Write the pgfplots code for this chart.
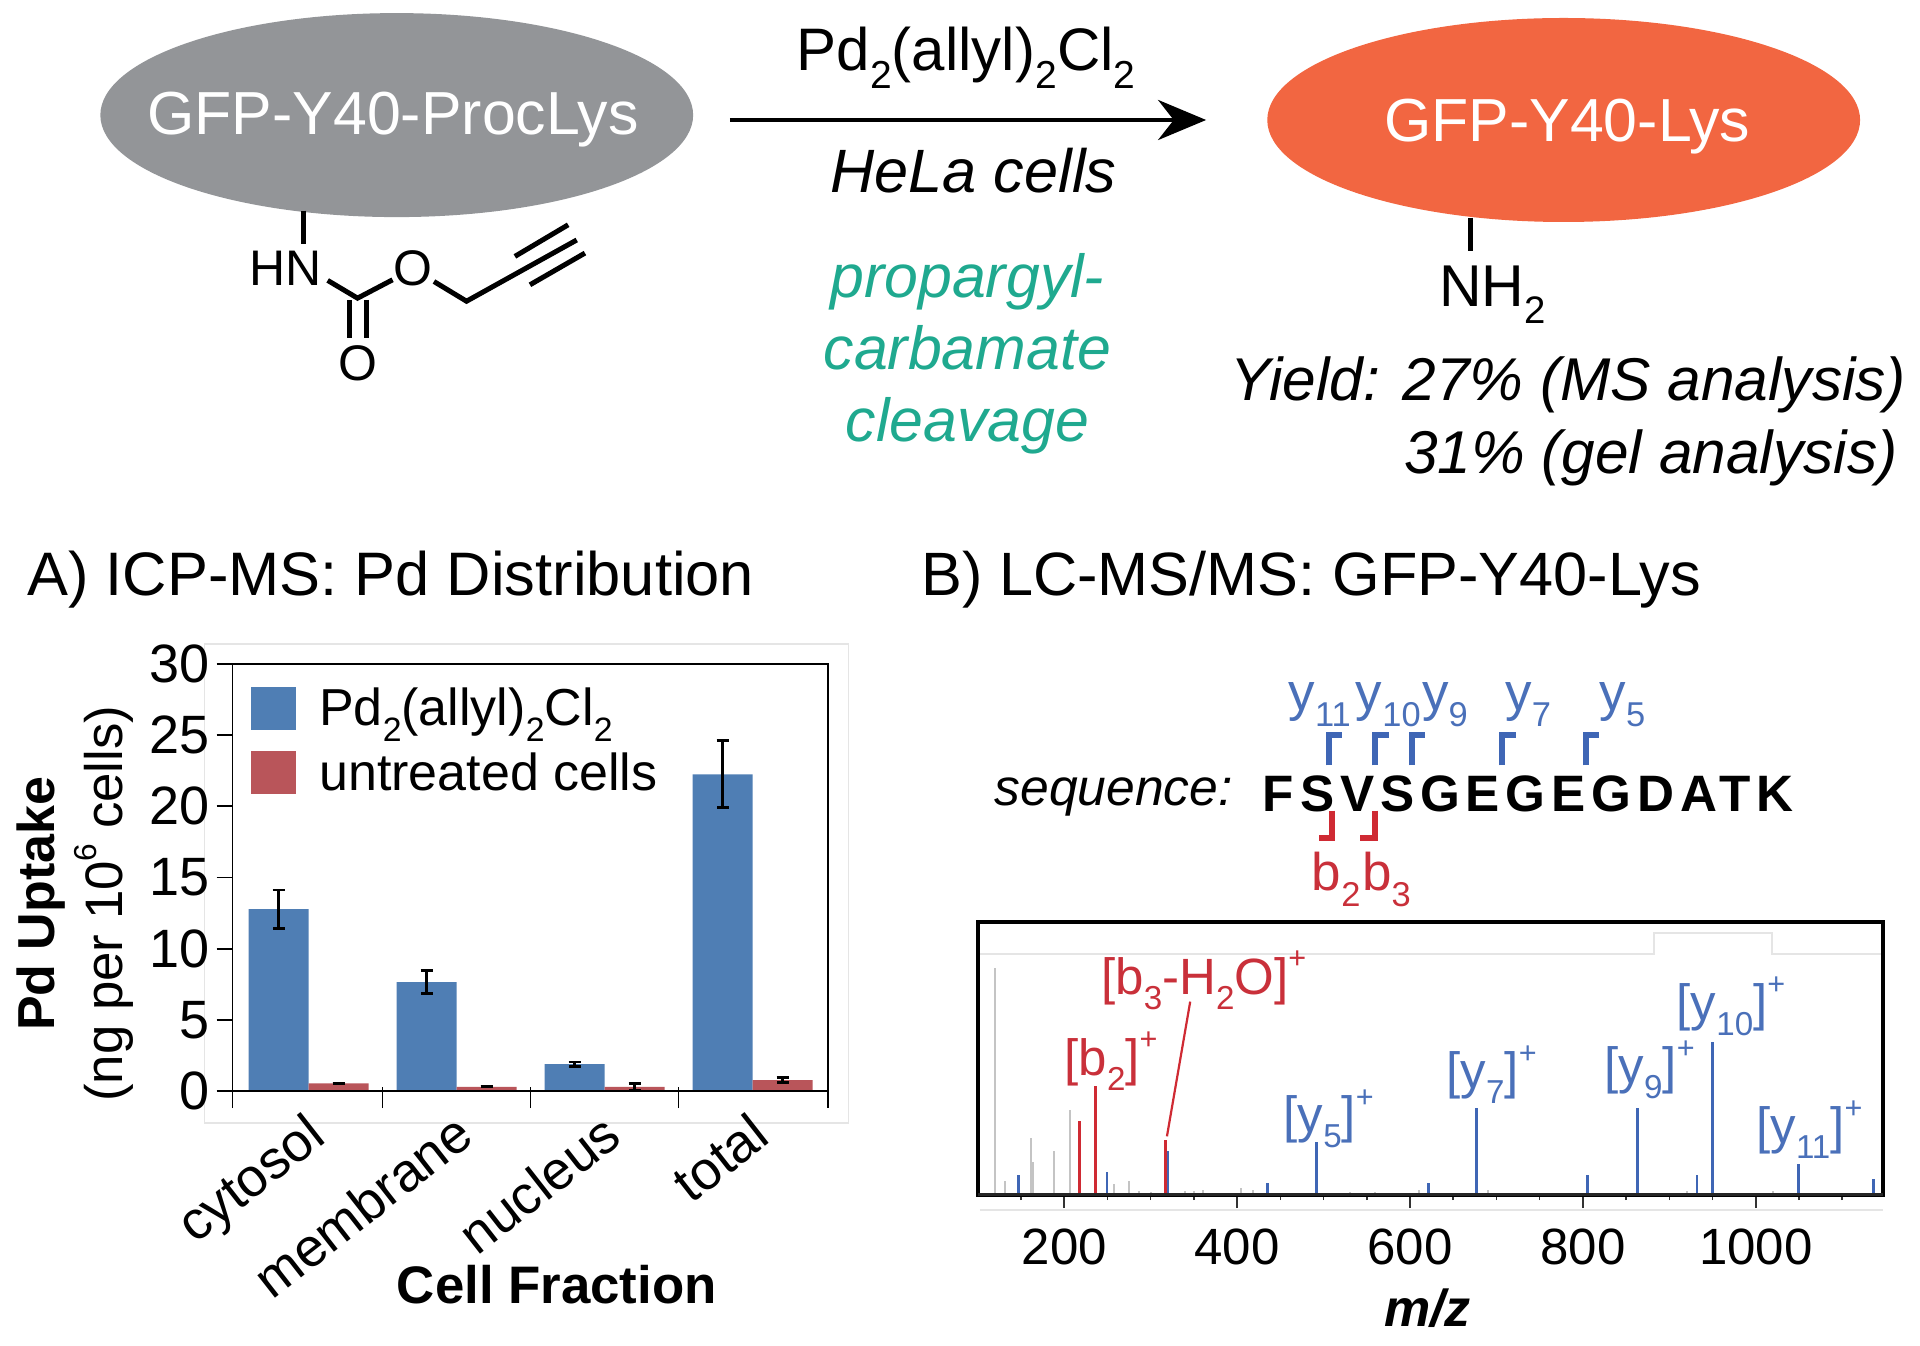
\documentclass[border=0pt]{standalone}
\usepackage{graphicx}
\usepackage{fontspec}
\setmainfont{Liberation Sans}
\usepackage{pgfplots}
\pgfplotsset{compat=1.18}
\usetikzlibrary{arrows.meta}
\newcommand\fs[1]{\fontsize{#1}{#1}\selectfont}
\newcommand\sbs[1]{\raisebox{-0.3em}{\scalebox{0.65}{#1}}}
\newcommand\sps[1]{\raisebox{0.5em}{\scalebox{0.6}{#1}}}
\definecolor{barblue}{HTML}{4F7EB4}
\definecolor{barred}{HTML}{B9555A}
\definecolor{specblue}{HTML}{3F66B5}
\definecolor{specred}{HTML}{CF2A33}
\definecolor{specgray}{HTML}{C4C4C4}
\definecolor{lblblue}{HTML}{4A70B9}
\definecolor{lblred}{HTML}{C9303A}
\definecolor{teal2}{HTML}{1FA98F}
\definecolor{ellgray}{HTML}{939598}
\definecolor{ellorange}{HTML}{F26641}
\begin{document}
\begin{tikzpicture}
\path[use as bounding box] (0,0) rectangle (960pt,672.5pt);
\begin{scope}[x=0.61224pt,y=-0.61224pt,yshift=672.5pt]
\draw[black!10,line width=0.8pt] (167,526) rectangle (693,917);
\draw[black!10,line width=1pt] (800,779) -- (1351,779) -- (1351,762) -- (1447,762) -- (1447,779) -- (1538,779);
\draw[black!10,line width=1pt] (800,988) -- (1538,988);
\end{scope}

% A) ICP-MS
\begin{axis}[
  at={(116.3pt,118.4pt)}, anchor=south west, scale only axis,
  width=297.5pt, height=222.2pt,
  xmin=-0.513, xmax=3.507, ymin=-1.2, ymax=30,
  ybar=0pt, bar width=30pt,
  axis line style={draw=none},
  ytick={0,5,...,30},
  ytick align=outside,
  major tick length=8pt,
  major y tick style={black,line width=0.9pt},
  xtick={0,1,2,3},
  xticklabels={cytosol,membrane,nucleus,total},
  major x tick style={draw=none},
  minor xtick={0.5,1.5,2.5},
  minor x tick style={black,line width=0.7pt},
  xtick align=inside,
  minor tick length=10.4pt,
  xtick pos=bottom,
  ytick pos=left,
  tick label style={/pgf/number format/assume math mode=true},
  yticklabel style={font=\fs{27}},
  xticklabel style={font=\fs{27}, rotate=38, anchor=north east, xshift=1pt, yshift=4pt},
  xlabel={\bfseries Cell Fraction},
  xlabel style={font=\fs{26.4}, at={(axis description cs:0.545,-0.397)}, anchor=center},
  ylabel={{\fs{26}\bfseries Pd Uptake}\\[3.5pt]{\fs{26.4}(ng per 10\sps{6} cells)}},
  ylabel style={align=center, at={(axis description cs:-0.265,0.46)}, anchor=center},
  legend cell align=left,
  legend image code/.code={\fill[#1] (0pt,-10.7pt) rectangle (22.6pt,10.7pt);},
  legend style={at={(axis description cs:0.03,0.955)}, anchor=north west, draw=none, fill=none,
    font=\fs{26}, inner sep=0pt, row sep=7.8pt,
    /tikz/every odd column/.append style={column sep=9.6pt}},
  clip=false,
]
\addplot[fill=barblue, draw=none, error bars/.cd, y dir=both, y explicit,
  error bar style={black,line width=1.1pt}, error mark options={black,rotate=90,mark size=3pt,line width=1.4pt}]
  coordinates {(0,12.77) +- (0,1.35) (1,7.66) +- (0,0.78) (2,1.9) +- (0,0.15) (3,22.24) +- (0,2.35)};
\addplot[fill=barred, draw=none, error bars/.cd, y dir=both, y explicit,
  error bar style={black,line width=1.1pt}, error mark options={black,rotate=90,mark size=3pt,line width=1.4pt}]
  coordinates {(0,0.55) +- (0,0) (1,0.3) +- (0,0) (2,0.3) +- (0,0.25) (3,0.78) +- (0,0.15)};
\legend{Pd\sbs{2}(allyl)\sbs{2}Cl\sbs{2},untreated cells}
\draw[black,line width=0.9pt] (axis cs:-0.513,-1.2) -- (axis cs:-0.513,30) -- (axis cs:3.507,30) -- (axis cs:3.507,-1.2);
\draw[black,line width=0.9pt] (axis cs:-0.513,0) -- (axis cs:3.507,0);
\end{axis}

% B) LC-MS/MS
\begin{axis}[
  at={(488.9pt,75pt)}, anchor=south west, scale only axis,
  width=452.5pt, height=136.5pt,
  xmin=100, xmax=1147, ymin=0, ymax=100,
  ytick=\empty,
  xtick={200,400,600,800,1000},
  minor xtick={150,250,300,350,450,500,550,650,700,750,850,900,950,1050,1100},
  xtick pos=bottom,
  tick align=outside,
  major tick length=6.5pt, minor tick length=2.5pt,
  tick style={black!80,line width=0.8pt},
  axis line style={line width=1.8pt},
  tick label style={/pgf/number format/assume math mode=true, /pgf/number format/1000 sep={}},
  xticklabel style={font=\fs{25.5}, yshift=-7pt},
  xlabel={\bfseries\itshape m/z},
  xlabel style={font=\fs{26}, at={(axis description cs:0.497,-0.415)}, anchor=center},
]
\addplot[ycomb, no marks, color=specgray, line width=1pt] coordinates {
 (120,83) (131,5) (161,21) (164,12) (188,16) (207,31) (257,4) (275,5) (286,1.5) (300,1) (340,1.5) (350,1.5) (360,2) (404,2.5) (418,2) (530,1) (560,1) (610,2) (690,2) (920,1.5) (1020,1.5) };
\addplot[ycomb, no marks, color=specblue, line width=1.4pt] coordinates {
 (147,7.5) (249.5,8.5) (320,16) (435,4.5) (492,19.5) (621,4.5) (677,32) (805,7.5) (863,32) (932,7.5) (950,56) (1049,11.5) (1136,6) };
\addplot[ycomb, no marks, color=specred, line width=1.4pt] coordinates {
 (218,27) (236,40) (317.5,20) };
\draw[black!85,line width=2pt] (axis cs:100,0) -- (axis cs:1147,0);
\end{axis}

\begin{scope}[x=0.61224pt,y=-0.61224pt,yshift=672.5pt]
% scheme
\fill[ellgray] (324,94) ellipse [x radius=148.2pt,y radius=51pt];
\fill[ellorange] (1277,98) ellipse [x radius=148.2pt,y radius=51pt];
\node[white,font=\fs{30.4}] at (321,98) {GFP-Y40-ProcLys};
\node[white,font=\fs{30.4}] at (1280,103) {GFP-Y40-Lys};
\draw[line width=2.4pt,-{Stealth[length=24pt,width=20pt]}] (596,98) -- (985,98);
\node[font=\fs{30}] at (789,47) {Pd\sbs{2}(allyl)\sbs{2}Cl\sbs{2}};
\node[font=\fs{30.6}\itshape] at (795,139) {HeLa cells};
\node[teal2,font=\fs{30.4}\itshape] at (790,230) {propargyl-};
\node[teal2,font=\fs{30.4}\itshape] at (790,284) {carbamate};
\node[teal2,font=\fs{30.4}\itshape] at (790,348) {cleavage};
% molecule
\begin{scope}[line width=2.5pt,black]
\draw (248.2,172) -- (248.2,199);
\draw (267.6,229) -- (292,243.5) -- (320.6,228.5);
\draw (285.8,245) -- (285.8,276) (298.9,245) -- (298.9,276);
\draw (354.4,229.9) -- (381,246) -- (471,196);
\draw (420.5,209.4) -- (464,183.6) (432.8,232.6) -- (477.7,206.7);
\draw (1201,178) -- (1201,205);
\end{scope}
\node[font=\fs{25}] at (233,219) {HN};
\node[font=\fs{25}] at (337.5,219) {O};
\node[font=\fs{25}] at (292,296.5) {O};
\node[font=\fs{29.5},anchor=base west,inner sep=0pt] at (1175,250) {NH\sbs{2}};
\node[font=\fs{30.2}\itshape,anchor=base east,inner sep=0pt] at (1557,327) {Yield: 27\% (MS analysis)};
\node[font=\fs{30.2}\itshape,anchor=base east,inner sep=0pt] at (1550,387) {31\% (gel analysis)};
% panel titles
\node[font=\fs{30.7},anchor=base west,inner sep=0pt] at (22,486) {A) ICP-MS: Pd Distribution};
\node[font=\fs{30.6},anchor=base west,inner sep=0pt] at (752,486) {B) LC-MS/MS: GFP-Y40-Lys};
% sequence
\node[font=\fs{25.8}\itshape,anchor=base west,inner sep=0pt] at (812,658) {sequence:};
\node[font={\fs{25.6}\bfseries\addfontfeatures{LetterSpace=11.5}},anchor=base,inner sep=0pt] at (1248,663) {FSVSGEGEGDATK};
\begin{scope}[specblue,line width=3pt]
\foreach \xx in {1085,1123,1153,1227,1295}{
  \draw (\xx,625) -- (\xx,600) -- ++(11,0);
}
\end{scope}
\begin{scope}[specred,line width=3pt]
\draw (1088,662) -- (1088,684) -- ++(-11,0);
\draw (1123,662) -- (1123,684) -- ++(-12,0);
\end{scope}
\foreach \xx/\t in {1052/11,1107/10,1161/9,1229/7,1306/5}{
  \node[lblblue,font=\fs{26.5},anchor=base west,inner sep=0pt] at (\xx,580) {y\sbs{\t}};
}
\node[lblred,font=\fs{26.5},anchor=base west,inner sep=0pt] at (1071,727) {b\sbs{2}};
\node[lblred,font=\fs{26.5},anchor=base west,inner sep=0pt] at (1112,727) {b\sbs{3}};
% peak labels
\draw[specred,line width=1.1pt] (953,928) -- (972,818);
\node[lblred,font=\fs{25.5},anchor=base west,inner sep=0pt] at (899,812) {[b\sbs{3}-H\sbs{2}O]\sps{+}};
\node[lblred,font=\fs{25.5},anchor=base west,inner sep=0pt] at (869,878) {[b\sbs{2}]\sps{+}};
\node[lblblue,font=\fs{25.5},anchor=base west,inner sep=0pt] at (1048,925) {[y\sbs{5}]\sps{+}};
\node[lblblue,font=\fs{25.5},anchor=base west,inner sep=0pt] at (1181,889) {[y\sbs{7}]\sps{+}};
\node[lblblue,font=\fs{25.5},anchor=base west,inner sep=0pt] at (1310,885) {[y\sbs{9}]\sps{+}};
\node[lblblue,font=\fs{25.5},anchor=base west,inner sep=0pt] at (1369,833) {[y\sbs{10}]\sps{+}};
\node[lblblue,font=\fs{25.5},anchor=base west,inner sep=0pt] at (1434,934) {[y\sbs{11}]\sps{+}};
\end{scope}
\end{tikzpicture}
\end{document}
